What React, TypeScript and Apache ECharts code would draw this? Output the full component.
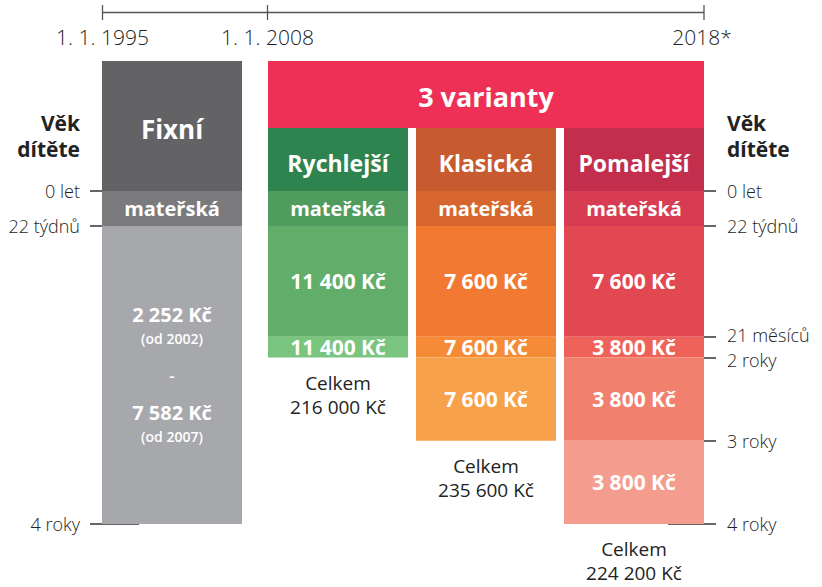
import React, { useEffect, useRef } from 'react';
import * as echarts from 'echarts';

// 22 týdnů vyjádřeno v měsících
const MAT = (22 * 7) / 30.4375;

const timelineLabels = ['1. 1. 1995', '1. 1. 2008', '2018*'];
const ageTitleLines = ['Věk', 'dítěte'];

const fixedName = 'Fixní';
const fixedBounds = [0, MAT, 48];
const fixedLabels = ['mateřská', '{b|2 252 Kč}\n{s|(od 2002)}\n{d|-}\n{b|7 582 Kč}\n{s|(od 2007)}'];

const variantsTitle = '3 varianty';
const variantNames = ['Rychlejší', 'Klasická', 'Pomalejší'];
const fastBounds = [0, MAT, 21, 24];
const fastLabels = ['mateřská', '11 400 Kč', '11 400 Kč'];
const classicBounds = [0, MAT, 21, 24, 36];
const classicLabels = ['mateřská', '7 600 Kč', '7 600 Kč', '7 600 Kč'];
const slowBounds = [0, MAT, 21, 24, 36, 48];
const slowLabels = ['mateřská', '7 600 Kč', '3 800 Kč', '3 800 Kč', '3 800 Kč'];
const totalLabel = 'Celkem';
const totals = ['216 000 Kč', '235 600 Kč', '224 200 Kč'];

const leftTickValues = [0, MAT, 48];
const leftTickLabels = ['0 let', '22 týdnů', '4 roky'];
const rightTickValues = [0, MAT, 21, 24, 36, 48];
const rightTickLabels = ['0 let', '22 týdnů', '21 měsíců', '2 roky', '3 roky', '4 roky'];

// colours
const fixedHeaderColor = '#636365';
const fixedColors = ['#7B7B7E', '#A7A8AB'];
const variantsColor = '#EE3057';
const variantHeaderColors = ['#2E844F', '#C75A2E', '#C32E4C'];
const fastColors = ['#4F9C5E', '#62AD69', '#79C47E'];
const classicColors = ['#D6652E', '#F17931', '#F58B37', '#F7A14A'];
const slowColors = ['#D83C52', '#E24852', '#EE6259', '#F2806F', '#F49C8D'];

const FONT = '"Open Sans", Roboto, sans-serif';
const HEAD_H = 130;
const SUB_H = 63;
const GAP = 8;

type Seg = { col: number; y0: number; y1: number; label: string; color: string };

const buildSegs = (col: number, bounds: number[], labels: string[], colors: string[]): Seg[] =>
  labels.map((label, k) => ({ col, y0: bounds[k], y1: bounds[k + 1], label, color: colors[k] }));

const fixedSegs = buildSegs(0, fixedBounds, fixedLabels, fixedColors);
const variantSegs = [
  ...buildSegs(0, fastBounds, fastLabels, fastColors),
  ...buildSegs(1, classicBounds, classicLabels, classicColors),
  ...buildSegs(2, slowBounds, slowLabels, slowColors),
];
const variantEnds = [fastBounds, classicBounds, slowBounds].map((b) => b[b.length - 1]);

// small vertical nudges for the two tightly spaced right-hand labels
const nudge: Record<number, string> = { 21: 'u', 24: 'd' };

const labelFor = (values: number[], labels: string[]) => (v: number) => {
  const i = values.findIndex((x) => Math.abs(x - v) < 1e-6);
  if (i < 0) return '';
  const n = nudge[Math.round(values[i] * 1000) / 1000];
  return n ? `{${n}|${labels[i]}}` : labels[i];
};

const segRender = (segs: Seg[], gap: number) => (params: any, api: any) => {
  const s = segs[params.dataIndex];
  const top = api.coord([api.value(0), api.value(1)]);
  const bot = api.coord([api.value(0), api.value(2)]);
  const w = api.size([1, 0])[0] - gap;
  const isRich = s.label.indexOf('{') === 0;
  return {
    type: 'group',
    children: [
      {
        type: 'rect',
        shape: { x: top[0] - w / 2, y: top[1], width: w, height: bot[1] - top[1] },
        style: { fill: s.color },
      },
      {
        type: 'text',
        x: top[0],
        y: (top[1] + bot[1]) / 2,
        style: isRich
          ? {
              text: s.label,
              align: 'center',
              verticalAlign: 'middle',
              fill: '#fff',
              fontFamily: FONT,
              rich: {
                b: { fontSize: 20, fontWeight: 700, lineHeight: 24, fill: '#fff', fontFamily: FONT },
                s: { fontSize: 14, fontWeight: 600, lineHeight: 24, fill: '#fff', fontFamily: FONT },
                d: { fontSize: 17, fontWeight: 600, lineHeight: 50, fill: '#fff', fontFamily: FONT },
              },
            }
          : {
              text: s.label,
              align: 'center',
              verticalAlign: 'middle',
              fill: '#fff',
              fontFamily: FONT,
              fontWeight: 700,
              fontSize: s.label === 'mateřská' ? 20 : 21,
            },
      },
    ],
  };
};

const headerRender = (names: string[], colors: string[], height: number, gap: number, fontSize: number) =>
  (params: any, api: any) => {
    const i = params.dataIndex;
    const p = api.coord([api.value(0), 0]);
    const w = api.size([1, 0])[0] - gap;
    return {
      type: 'group',
      children: [
        { type: 'rect', shape: { x: p[0] - w / 2, y: p[1] - height, width: w, height }, style: { fill: colors[i] } },
        {
          type: 'text',
          x: p[0],
          y: p[1] - height / 2 + 3,
          style: {
            text: names[i],
            align: 'center',
            verticalAlign: 'middle',
            fill: '#fff',
            fontFamily: FONT,
            fontWeight: 700,
            fontSize,
          },
        },
      ],
    };
  };

const bannerRender = (params: any, api: any) => {
  const a = api.coord([0, 0]);
  const b = api.coord([variantNames.length - 1, 0]);
  const band = api.size([1, 0])[0];
  const x0 = a[0] - (band - GAP) / 2;
  const x1 = b[0] + (band - GAP) / 2;
  const y1 = a[1] - SUB_H;
  const y0 = a[1] - HEAD_H;
  return {
    type: 'group',
    children: [
      { type: 'rect', shape: { x: x0, y: y0, width: x1 - x0, height: y1 - y0 }, style: { fill: variantsColor } },
      {
        type: 'text',
        x: (x0 + x1) / 2,
        y: (y0 + y1) / 2 + 2,
        style: {
          text: variantsTitle,
          align: 'center',
          verticalAlign: 'middle',
          fill: '#fff',
          fontFamily: FONT,
          fontWeight: 700,
          fontSize: 27,
        },
      },
    ],
  };
};

const totalRender = (params: any, api: any) => {
  const p = api.coord([api.value(0), api.value(1)]);
  return {
    type: 'text',
    x: p[0],
    y: p[1] + 13,
    style: {
      text: totalLabel + '\n' + totals[params.dataIndex],
      align: 'center',
      verticalAlign: 'top',
      fill: '#222',
      fontFamily: FONT,
      fontWeight: 500,
      fontSize: 19,
      lineHeight: 24,
    },
  };
};

const axisLabelStyle = {
  fontFamily: FONT,
  fontSize: 18,
  fontWeight: 300,
  lineHeight: 18,
  color: '#222',
};

const nudgeRich = {
  u: { fontFamily: FONT, fontSize: 18, fontWeight: 300, color: '#222', lineHeight: 18, padding: [0, 0, 4, 0] },
  d: { fontFamily: FONT, fontSize: 18, fontWeight: 300, color: '#222', lineHeight: 18, padding: [4, 0, 0, 0] },
};

export default function App() {
  const ref = useRef<HTMLDivElement>(null);
  useEffect(() => {
    if (!ref.current) return;
    const chart = echarts.init(ref.current, undefined, { renderer: 'svg' });
    const tickLine = { color: '#333', width: 1.5 };
    const tlY = 12.5;
    const tlX = [102.5, 267.5, 704];
    const ageTitle = (x: number, align: string) =>
      ageTitleLines.map((t, i) => ({
        type: 'text',
        x,
        y: 123 + i * 26,
        style: { text: t, align, verticalAlign: 'middle', fill: '#222', fontFamily: FONT, fontWeight: 700, fontSize: 21 },
      }));
    chart.setOption({
      animation: false,
      backgroundColor: '#fff',
      grid: [
        { left: 102, top: 191, width: 140, height: 333 },
        { left: 264, top: 191, width: 444, height: 333 },
      ],
      xAxis: [
        { gridIndex: 0, type: 'category', data: [fixedName], show: false },
        { gridIndex: 1, type: 'category', data: variantNames, show: false },
      ],
      yAxis: [
        {
          gridIndex: 0,
          type: 'value',
          inverse: true,
          min: 0,
          max: 48,
          position: 'left',
          axisLine: { show: false },
          splitLine: { show: false },
          axisTick: { show: true, customValues: leftTickValues, length: 12, lineStyle: tickLine },
          axisLabel: { ...axisLabelStyle, customValues: leftTickValues, margin: 22, formatter: labelFor(leftTickValues, leftTickLabels) },
        },
        {
          gridIndex: 1,
          type: 'value',
          inverse: true,
          min: 0,
          max: 48,
          position: 'right',
          offset: -4,
          axisLine: { show: false },
          splitLine: { show: false },
          axisTick: { show: true, customValues: rightTickValues, length: 12, lineStyle: tickLine },
          axisLabel: {
            ...axisLabelStyle,
            customValues: rightTickValues,
            margin: 23,
            formatter: labelFor(rightTickValues, rightTickLabels),
            rich: nudgeRich,
          },
        },
        {
          gridIndex: 0,
          type: 'value',
          inverse: true,
          min: 0,
          max: 48,
          position: 'left',
          axisLine: { show: false },
          splitLine: { show: false },
          axisTick: { show: true, inside: true, customValues: [48], length: 37, lineStyle: tickLine },
          axisLabel: { show: false },
        },
        {
          gridIndex: 1,
          type: 'value',
          inverse: true,
          min: 0,
          max: 48,
          position: 'right',
          offset: -4,
          axisLine: { show: false },
          splitLine: { show: false },
          axisTick: { show: true, inside: true, customValues: [48], length: 36, lineStyle: tickLine },
          axisLabel: { show: false },
        },
      ],
      series: [
        {
          type: 'custom',
          xAxisIndex: 0,
          yAxisIndex: 0,
          z: 1,
          renderItem: segRender(fixedSegs, 0),
          data: fixedSegs.map((s) => [s.col, s.y0, s.y1]),
        },
        {
          type: 'custom',
          xAxisIndex: 1,
          yAxisIndex: 1,
          z: 1,
          renderItem: segRender(variantSegs, GAP),
          data: variantSegs.map((s) => [s.col, s.y0, s.y1]),
        },
        {
          type: 'custom',
          xAxisIndex: 0,
          yAxisIndex: 0,
          renderItem: headerRender([fixedName], [fixedHeaderColor], HEAD_H, 0, 26),
          data: [[0]],
        },
        {
          type: 'custom',
          xAxisIndex: 1,
          yAxisIndex: 1,
          renderItem: headerRender(variantNames, variantHeaderColors, SUB_H, GAP, 23),
          data: variantNames.map((_, i) => [i]),
        },
        {
          type: 'custom',
          xAxisIndex: 1,
          yAxisIndex: 1,
          renderItem: bannerRender,
          data: [[0]],
        },
        {
          type: 'custom',
          xAxisIndex: 1,
          yAxisIndex: 1,
          renderItem: totalRender,
          data: variantEnds.map((e, i) => [i, e]),
        },
      ],
      graphic: [
        { type: 'line', shape: { x1: tlX[0], y1: tlY, x2: tlX[2], y2: tlY }, style: { stroke: '#555', lineWidth: 1.3 } },
        ...tlX.map((x) => ({
          type: 'line',
          shape: { x1: x, y1: 5, x2: x, y2: 20 },
          style: { stroke: '#555', lineWidth: 1.3 },
        })),
        ...timelineLabels.map((t, i) => ({
          type: 'text',
          x: tlX[i] + (i === 2 ? -2 : 0),
          y: 37,
          style: { text: t, align: 'center', verticalAlign: 'middle', fill: '#222', fontFamily: FONT, fontWeight: 300, fontSize: 21 },
        })),
        ...ageTitle(80, 'right'),
        ...ageTitle(727, 'left'),
      ],
    });
    return () => chart.dispose();
  }, []);
  return <div ref={ref} style={{ position: 'absolute', left: 0, top: 0, width: 822, height: 587 }} />;
}
